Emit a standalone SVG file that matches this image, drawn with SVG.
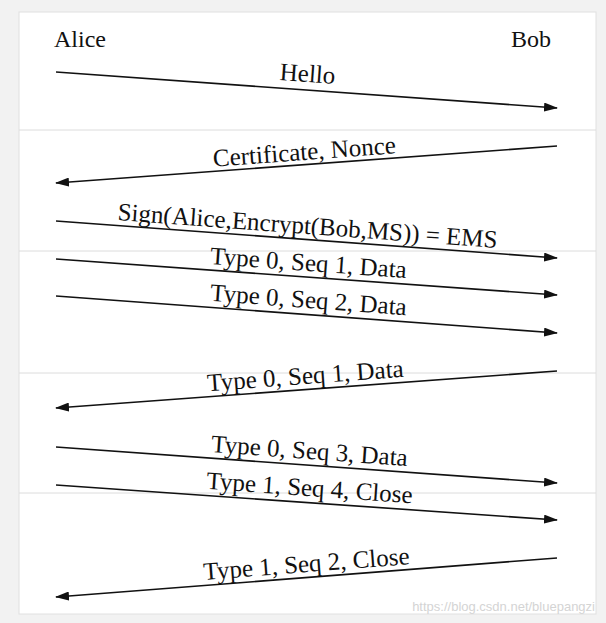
<svg xmlns="http://www.w3.org/2000/svg" width="606" height="623" viewBox="0 0 606 623">
<style>
.t{font-family:"Liberation Serif",serif;font-size:25px;fill:#111;text-anchor:middle}
.a{stroke:#111;stroke-width:1.6;fill:none;marker-end:url(#ah)}
.sep{stroke:#dcdcdc;stroke-width:1}
</style>
<defs><marker id="ah" markerWidth="14" markerHeight="9" refX="13" refY="4.5" orient="auto" markerUnits="userSpaceOnUse"><path d="M0,0 L14,4.5 L0,9 Z" fill="#111"/></marker></defs>
<rect width="606" height="623" fill="#f2f2f2"/>
<rect x="19" y="12" width="577" height="602" fill="#fff" stroke="#e0e0e0"/>
<g id="separators">
<line class="sep" x1="19" y1="130" x2="596" y2="130"/>
<line class="sep" x1="19" y1="251" x2="596" y2="251"/>
<line class="sep" x1="19" y1="373" x2="596" y2="373"/>
<line class="sep" x1="19" y1="493" x2="596" y2="493"/>
</g>
<g id="alice"><text class="t" x="54" y="47" style="text-anchor:start;font-size:24px">Alice</text></g>
<g id="bob"><text class="t" x="551" y="47" style="text-anchor:end;font-size:24px">Bob</text></g>
<g id="connectors">
<line class="a" x1="56" y1="72" x2="557" y2="108"/>
<line class="a" x1="557" y1="146" x2="56" y2="183"/>
<line class="a" x1="56" y1="221" x2="557" y2="258"/>
<line class="a" x1="56" y1="259" x2="557" y2="295"/>
<line class="a" x1="56" y1="296" x2="557" y2="333"/>
<line class="a" x1="557" y1="371" x2="56" y2="408"/>
<line class="a" x1="56" y1="447" x2="557" y2="483"/>
<line class="a" x1="56" y1="485" x2="557" y2="520"/>
<line class="a" x1="557" y1="558" x2="56" y2="597"/>
</g>
<g id="labels">
<text class="t" transform="translate(307,82) rotate(4.1)">Hello</text>
<text class="t" transform="translate(305,160) rotate(-4.2)">Certificate, Nonce</text>
<text class="t" transform="translate(307,234) rotate(4.2)">Sign(Alice,Encrypt(Bob,MS)) = EMS</text>
<text class="t" transform="translate(308,271) rotate(4.1)">Type 0, Seq 1, Data</text>
<text class="t" transform="translate(308,308) rotate(4.2)">Type 0, Seq 2, Data</text>
<text class="t" transform="translate(306,384) rotate(-4.2)">Type 0, Seq 1, Data</text>
<text class="t" transform="translate(309,459) rotate(4.1)">Type 0, Seq 3, Data</text>
<text class="t" transform="translate(309,496) rotate(4.0)">Type 1, Seq 4, Close</text>
<text class="t" transform="translate(307,572) rotate(-4.4)">Type 1, Seq 2, Close</text>
</g>
<text x="595" y="611" font-family="Liberation Sans,sans-serif" font-size="13" fill="#d4d4d4" text-anchor="end">https://blog.csdn.net/bluepangzi</text>
</svg>
